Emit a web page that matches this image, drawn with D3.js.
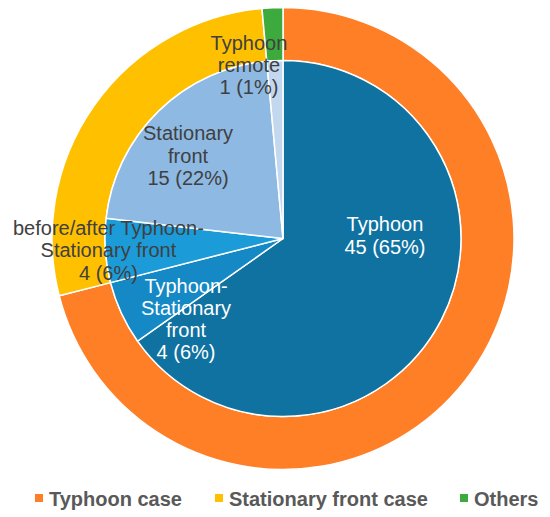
<!DOCTYPE html>
<html>
<head>
<meta charset="utf-8">
<script src="https://cdn.jsdelivr.net/npm/d3@7/dist/d3.min.js"></script>
<style>
  html, body { margin: 0; padding: 0; background: #fff; }
  svg { display: block; }
</style>
</head>
<body>
<svg id="chart" width="550" height="517"></svg>
<script>
// ---- data ----
const innerCategories = ["Typhoon", "Typhoon-Stationary front", "before/after Typhoon-Stationary front", "Stationary front", "Typhoon remote"];
const innerValues = [45, 4, 4, 15, 1];
const innerLabelLines = [
  ["Typhoon", "45 (65%)"],
  ["Typhoon-", "Stationary", "front", "4 (6%)"],
  ["before/after Typhoon-", "Stationary front", "4 (6%)"],
  ["Stationary", "front", "15 (22%)"],
  ["Typhoon", "remote", "1 (1%)"]
];
const outerCategories = ["Typhoon case", "Stationary front case", "Others"];
const outerValues = [49, 19, 1];

// ---- styles ----
const innerColors = ["#0F72A1", "#1589C5", "#1B9BD8", "#8DB9E3", "#C3D8EF"];
const innerTextColors = ["#ffffff", "#ffffff", "#404040", "#404040", "#404040"];
// label anchor: angle (deg, clockwise from top) and distance from centre
const labelAnchor = [
  {a: 88.3, r: 102},
  {a: 230.3, r: 126},
  {a: 266.1, r: 175},
  {a: 311.1, r: 126},
  {a: 348.9, r: 177}
];
const outerColors = ["#FF7F27", "#FFC000", "#3DAA3D"];

const svg = d3.select("#chart");
const cx = 283, cy = 238.5;
const rInner = 178, rOuter = 231;

const g = svg.append("g").attr("transform", `translate(${cx},${cy})`);

const pie = d3.pie().sort(null).value(d => d).startAngle(0).endAngle(2 * Math.PI);

const outerArc = d3.arc().innerRadius(rInner).outerRadius(rOuter);
const innerArc = d3.arc().innerRadius(0).outerRadius(rInner);

g.selectAll("path.outer")
  .data(pie(outerValues))
  .join("path")
  .attr("class", "outer")
  .attr("d", outerArc)
  .attr("fill", (d, i) => outerColors[i])
  .attr("stroke", "#fff")
  .attr("stroke-width", 1.5)
  .attr("stroke-linejoin", "round");

g.selectAll("path.inner")
  .data(pie(innerValues))
  .join("path")
  .attr("class", "inner")
  .attr("d", innerArc)
  .attr("fill", (d, i) => innerColors[i])
  .attr("stroke", "#fff")
  .attr("stroke-width", 1.5)
  .attr("stroke-linejoin", "round");

// labels
const fontFamily = "'Liberation Sans', Arial, Helvetica, sans-serif";
const lineH = 22.2;
innerLabelLines.forEach((lines, i) => {
  const an = labelAnchor[i];
  const ang = an.a * Math.PI / 180;
  const x = Math.sin(ang) * an.r;
  const y = -Math.cos(ang) * an.r;
  const t = g.append("text")
    .attr("text-anchor", "middle")
    .attr("font-family", fontFamily)
    .attr("font-size", 20)
    .attr("fill", innerTextColors[i]);
  lines.forEach((ln, j) => {
    t.append("tspan")
      .attr("x", x)
      .attr("y", y + (j - (lines.length - 1) / 2) * lineH)
      .attr("dy", "0.35em")
      .text(ln);
  });
});

// legend
const legendX = [35, 215, 460];
const legend = svg.append("g");
outerCategories.forEach((c, i) => {
  legend.append("rect")
    .attr("x", legendX[i]).attr("y", 494)
    .attr("width", 8).attr("height", 8)
    .attr("fill", outerColors[i]);
  legend.append("text")
    .attr("x", legendX[i] + 14).attr("y", 506)
    .attr("font-family", fontFamily)
    .attr("font-size", 20)
    .attr("font-weight", "bold")
    .attr("fill", "#595959")
    .text(c);
});
</script>
</body>
</html>
